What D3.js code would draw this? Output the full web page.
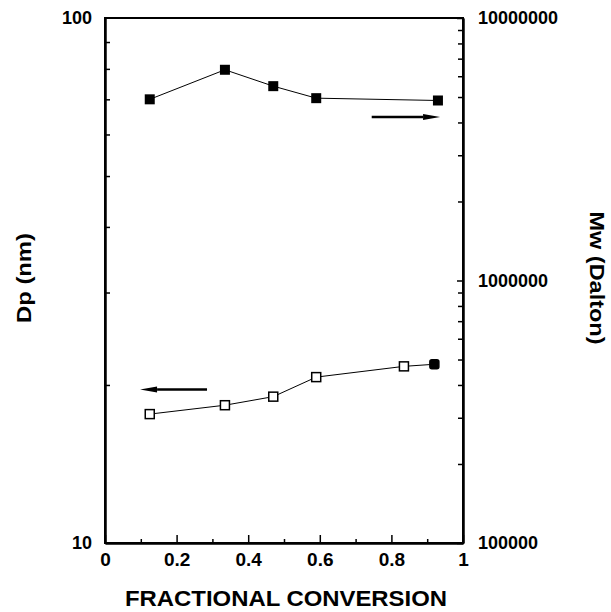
<!DOCTYPE html>
<html>
<head>
<meta charset="utf-8">
<script src="https://cdn.jsdelivr.net/npm/d3@7"></script>
<style>
  body { margin: 0; background: #fff; }
  svg text { font-family: "Liberation Sans", Arial, sans-serif; font-weight: bold; fill: #000; }
  .axis path, .axis line { stroke: #000; }
</style>
</head>
<body>
<div id="chart"></div>
<script>
// Dp (nm) vs fractional conversion, left axis
const dpConversion = [0.125, 0.335, 0.47, 0.59, 0.835, 0.92];
const dpValues = [17.6, 18.3, 19.0, 20.7, 21.7, 21.9];
// Mw (Dalton) vs fractional conversion, right axis
const mwConversion = [0.125, 0.335, 0.47, 0.59, 0.93];
const mwValues = [4.9e6, 6.35e6, 5.5e6, 4.95e6, 4.85e6];

// arrows pointing to the axis each series belongs to
const mwArrowX = [0.745, 0.936];
const mwArrowY = 4.2e6;
const dpArrowX = [0.285, 0.098];
const dpArrowY = 19.6;

const xTicks = [0, 0.2, 0.4, 0.6, 0.8, 1];
const xMinorTicks = [0.1, 0.3, 0.5, 0.7, 0.9];
const leftTicks = [10, 100];
const leftMinorTicks = [20, 30, 40, 50, 60, 70, 80, 90];
const rightTicks = [1e5, 1e6, 1e7];
const rightMinorTicks = [2e5, 3e5, 4e5, 5e5, 6e5, 7e5, 8e5, 9e5, 2e6, 3e6, 4e6, 5e6, 6e6, 7e6, 8e6, 9e6];

const width = 611, height = 612;
const margin = { top: 18, right: 148, bottom: 69, left: 105 };
const innerW = width - margin.left - margin.right;
const innerH = height - margin.top - margin.bottom;

const svg = d3.select("#chart").append("svg")
    .attr("width", width)
    .attr("height", height);

const g = svg.append("g")
    .attr("transform", "translate(" + margin.left + "," + margin.top + ")");

const xScale = d3.scaleLinear().domain([0, 1]).range([0, innerW]);
const yLeft = d3.scaleLog().domain([10, 100]).range([innerH, 0]);
const yRight = d3.scaleLog().domain([1e5, 1e7]).range([innerH, 0]);

// frame
g.append("rect")
    .attr("width", innerW)
    .attr("height", innerH)
    .attr("fill", "none")
    .attr("stroke", "#000")
    .attr("stroke-width", 2);

// x axis
const xAxis = d3.axisBottom(xScale)
    .tickValues(xTicks)
    .tickFormat(d => d === 0 || d === 1 ? d3.format("d")(d) : d3.format(".1f")(d))
    .tickSizeInner(-8)
    .tickSizeOuter(0)
    .tickPadding(10);

const xAxisGroup = g.append("g")
    .attr("class", "axis")
    .attr("transform", "translate(0," + innerH + ")")
    .call(xAxis);

g.append("g")
    .attr("class", "axis")
    .attr("transform", "translate(0," + innerH + ")")
    .call(d3.axisBottom(xScale).tickValues(xMinorTicks).tickFormat("").tickSizeInner(-4).tickSizeOuter(0));

// left axis
const leftAxisGroup = g.append("g")
    .attr("class", "axis")
    .call(d3.axisLeft(yLeft).tickValues(leftTicks).tickFormat(d3.format("d")).tickSizeInner(0).tickSizeOuter(0).tickPadding(13));

g.append("g")
    .attr("class", "axis")
    .call(d3.axisLeft(yLeft).tickValues(leftMinorTicks).tickFormat("").tickSizeInner(-5).tickSizeOuter(0));

// right axis
const rightAxisGroup = g.append("g")
    .attr("class", "axis")
    .attr("transform", "translate(" + innerW + ",0)")
    .call(d3.axisRight(yRight).tickValues(rightTicks).tickFormat(d3.format("d")).tickSizeInner(-6).tickSizeOuter(0).tickPadding(15));

g.append("g")
    .attr("class", "axis")
    .attr("transform", "translate(" + innerW + ",0)")
    .call(d3.axisRight(yRight).tickValues(rightMinorTicks).tickFormat("").tickSizeInner(-5).tickSizeOuter(0));

g.selectAll(".axis path").attr("stroke-width", 2);
g.selectAll(".axis line").attr("stroke-width", 1.5);
g.selectAll(".axis text").style("font-size", "18px");
xAxisGroup.selectAll("text").style("font-size", "19px");

// axis titles
svg.append("text")
    .attr("x", margin.left + innerW / 2 + 2)
    .attr("y", 606)
    .attr("text-anchor", "middle")
    .style("font-size", "22px")
    .attr("textLength", 322)
    .attr("lengthAdjust", "spacingAndGlyphs")
    .text("FRACTIONAL CONVERSION");

svg.append("text")
    .attr("transform", "translate(31,278) rotate(-90)")
    .attr("text-anchor", "middle")
    .style("font-size", "21px")
    .attr("textLength", 90)
    .attr("lengthAdjust", "spacingAndGlyphs")
    .text("Dp (nm)");

svg.append("text")
    .attr("transform", "translate(590,278) rotate(90)")
    .attr("text-anchor", "middle")
    .style("font-size", "20px")
    .attr("textLength", 133)
    .attr("lengthAdjust", "spacingAndGlyphs")
    .text("Mw (Dalton)");

// Mw series (filled squares)
const mwData = mwConversion.map((c, i) => ({ x: c, y: mwValues[i] }));
const dpData = dpConversion.map((c, i) => ({ x: c, y: dpValues[i] }));

g.append("path")
    .datum(mwData)
    .attr("fill", "none")
    .attr("stroke", "#000")
    .attr("stroke-width", 1)
    .attr("d", d3.line().x(d => xScale(d.x)).y(d => yRight(d.y)));

g.selectAll(".mw-point")
    .data(mwData)
  .enter().append("rect")
    .attr("class", "mw-point")
    .attr("x", d => xScale(d.x) - 5)
    .attr("y", d => yRight(d.y) - 5)
    .attr("width", 10)
    .attr("height", 10)
    .attr("fill", "#000");

// Dp series (open squares, last one filled)
g.append("path")
    .datum(dpData)
    .attr("fill", "none")
    .attr("stroke", "#000")
    .attr("stroke-width", 1)
    .attr("d", d3.line().x(d => xScale(d.x)).y(d => yLeft(d.y)));

g.selectAll(".dp-point")
    .data(dpData)
  .enter().append("rect")
    .attr("class", "dp-point")
    .attr("x", d => xScale(d.x) - 4.5)
    .attr("y", d => yLeft(d.y) - 4.5)
    .attr("width", 9)
    .attr("height", 9)
    .attr("rx", (d, i) => i === dpData.length - 1 ? 2 : 0)
    .attr("fill", (d, i) => i === dpData.length - 1 ? "#000" : "#fff")
    .attr("stroke", "#000")
    .attr("stroke-width", 1.5);

// arrows
function drawArrow(x0, x1, y) {
  const dir = x1 > x0 ? 1 : -1;
  const headLen = 17;
  g.append("line")
      .attr("x1", x0)
      .attr("x2", x1 - dir * headLen)
      .attr("y1", y)
      .attr("y2", y)
      .attr("stroke", "#000")
      .attr("stroke-width", 2.5);
  g.append("path")
      .attr("d", "M" + (x1 - dir * headLen) + "," + (y - 3) +
                 "L" + x1 + "," + y +
                 "L" + (x1 - dir * headLen) + "," + (y + 3) + "Z")
      .attr("fill", "#000");
}

drawArrow(xScale(mwArrowX[0]), xScale(mwArrowX[1]), yRight(mwArrowY));
drawArrow(xScale(dpArrowX[0]), xScale(dpArrowX[1]), yLeft(dpArrowY));
</script>
</body>
</html>
